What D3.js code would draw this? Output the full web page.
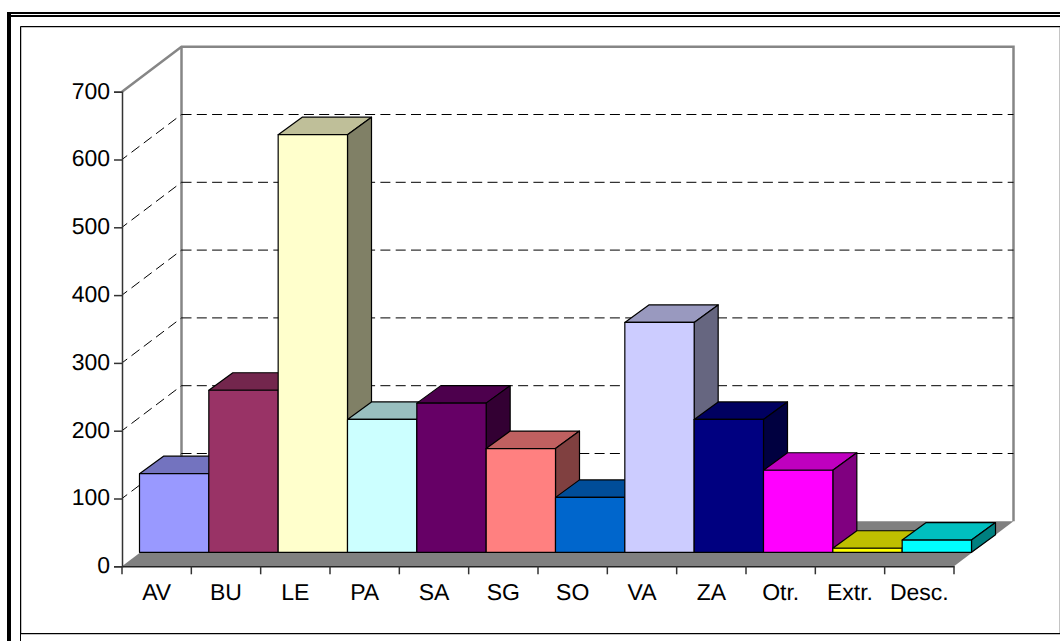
<!DOCTYPE html>
<html>
<head>
<meta charset="utf-8">
<script src="https://cdn.jsdelivr.net/npm/d3@7"></script>
<style>
html, body { margin: 0; padding: 0; background: #fff; overflow: hidden; }
svg { display: block; }
text { font-family: "Liberation Sans", Arial, sans-serif; fill: #000; text-rendering: geometricPrecision; }
</style>
</head>
<body>
<div id="chart"></div>
<script>
var categories = ["AV", "BU", "LE", "PA", "SA", "SG", "SO", "VA", "ZA", "Otr.", "Extr.", "Desc."];
var values = [116, 239, 616, 196, 220, 153, 81, 339, 196, 121, 6, 18];
var barColors = ["#9999FF", "#993366", "#FFFFCC", "#CCFFFF", "#660066", "#FF8080",
    "#0066CC", "#CCCCFF", "#000080", "#FF00FF", "#FFFF00", "#00FFFF"];
var yTicks = [0, 100, 200, 300, 400, 500, 600, 700];

var svg = d3.select("#chart").append("svg")
    .attr("width", 1060)
    .attr("height", 641);

// outer frame, cut off by the window on the right
var frame = svg.append("g");
frame.append("rect").attr("x", 7).attr("y", 12).attr("width", 1053).attr("height", 2).attr("fill", "#000");
frame.append("rect").attr("x", 7).attr("y", 15).attr("width", 1053).attr("height", 2).attr("fill", "#000");
frame.append("rect").attr("x", 7).attr("y", 12).attr("width", 4).attr("height", 629).attr("fill", "#000");
frame.append("rect").attr("x", 21).attr("y", 27).attr("width", 1039).attr("height", 607)
    .attr("fill", "none").attr("stroke", "#888").attr("stroke-width", 1);
frame.append("path").attr("d", "M20.5,641V26.5H1060M20.5,633.5H1060")
    .attr("fill", "none").attr("stroke", "#000").attr("stroke-width", 1);

var x = d3.scaleBand().domain(categories).range([122, 954]);
var y = d3.scaleLinear().domain([0, 700]).range([566.3, 91.7]);

// 3d offsets: whole box, gap in front of the bars, bar depth
var boxDx = 59.5, boxDy = -45;
var gapDx = 17.5, gapDy = -14;
var barDx = 24, barDy = -17.5;

function poly(pts) {
    return "M" + pts.map(function (p) { return p[0] + "," + p[1]; }).join("L") + "Z";
}

function shade(color, k) {
    var c = d3.rgb(color);
    return d3.rgb(c.r * k, c.g * k, c.b * k).formatHex();
}

// floor
svg.append("path")
    .attr("d", poly([[x.range()[0], y(0)], [x.range()[1], y(0)],
        [x.range()[1] + boxDx, y(0) + boxDy], [x.range()[0] + boxDx, y(0) + boxDy]]))
    .attr("fill", "#808080");

// walls
svg.append("path")
    .attr("d", "M" + x.range()[0] + "," + y(700)
        + "L" + (x.range()[0] + boxDx) + "," + (y(700) + boxDy)
        + "H" + (x.range()[1] + boxDx)
        + "V" + (y(0) + boxDy))
    .attr("fill", "none").attr("stroke", "#868686").attr("stroke-width", 2.5);
svg.append("line")
    .attr("x1", x.range()[0] + boxDx).attr("x2", x.range()[0] + boxDx)
    .attr("y1", y(700) + boxDy).attr("y2", y(0) + boxDy)
    .attr("stroke", "#868686").attr("stroke-width", 2.5);

// dashed grid on both walls
var grid = yTicks.filter(function (d) { return d > 0 && d < 700; });
svg.selectAll(".gridBack").data(grid).enter().append("line")
    .attr("class", "gridBack")
    .attr("x1", x.range()[0] + boxDx).attr("x2", x.range()[1] + boxDx)
    .attr("y1", function (d) { return y(d) + boxDy; })
    .attr("y2", function (d) { return y(d) + boxDy; })
    .attr("stroke", "#000").attr("stroke-width", 1).attr("stroke-dasharray", "10,5.3");
svg.selectAll(".gridSide").data(grid).enter().append("line")
    .attr("class", "gridSide")
    .attr("x1", x.range()[0]).attr("x2", x.range()[0] + boxDx)
    .attr("y1", function (d) { return y(d); })
    .attr("y2", function (d) { return y(d) + boxDy; })
    .attr("stroke", "#000").attr("stroke-width", 1)
    .attr("stroke-dasharray", "10,5.4").attr("stroke-dashoffset", 3.5);

// bars
var bars = svg.selectAll(".bar").data(categories).enter().append("g")
    .attr("class", "bar")
    .attr("stroke", "#000")
    .attr("stroke-width", 1.2)
    .attr("stroke-linejoin", "round");

function corners(d, i) {
    var x0 = x(d) + gapDx, x1 = x0 + x.bandwidth();
    var yb = y(0) + gapDy, yt = y(values[i]) + gapDy;
    return { x0: x0, x1: x1, yb: yb, yt: yt };
}

bars.append("path")
    .attr("d", function (d, i) {
        var c = corners(d, i);
        return poly([[c.x0, c.yt], [c.x1, c.yt], [c.x1 + barDx, c.yt + barDy], [c.x0 + barDx, c.yt + barDy]]);
    })
    .attr("fill", function (d, i) { return shade(barColors[i], 0.75); });

bars.append("path")
    .attr("d", function (d, i) {
        var c = corners(d, i);
        return poly([[c.x1, c.yt], [c.x1 + barDx, c.yt + barDy], [c.x1 + barDx, c.yb + barDy], [c.x1, c.yb]]);
    })
    .attr("fill", function (d, i) { return shade(barColors[i], 0.5); });

bars.append("path")
    .attr("d", function (d, i) {
        var c = corners(d, i);
        return poly([[c.x0, c.yt], [c.x1, c.yt], [c.x1, c.yb], [c.x0, c.yb]]);
    })
    .attr("fill", function (d, i) { return barColors[i]; });

// axes
var yAxis = d3.axisLeft(y).tickValues(yTicks).tickSize(8).tickPadding(4);
var gy = svg.append("g")
    .attr("transform", "translate(" + x.range()[0] + ",0)")
    .call(yAxis);
gy.selectAll("text").style("font-size", "23px").style("font-family", "Liberation Sans")
    .attr("fill", "#000").attr("y", -1);
gy.selectAll("line").attr("stroke", "#333").attr("stroke-width", 1.5);
gy.select(".domain").attr("stroke", "#333").attr("stroke-width", 1.5);

var xAxis = d3.axisBottom(x).tickSize(0).tickPadding(17);
var gx = svg.append("g")
    .attr("transform", "translate(0," + y(0) + ")")
    .call(xAxis);
gx.selectAll("text").style("font-size", "23px").style("font-family", "Liberation Sans").attr("fill", "#000");
gx.select(".domain").attr("stroke", "#222").attr("stroke-width", 1.5);

// the ticks sit on the band edges
gx.selectAll(".edgeTick").data(d3.range(categories.length + 1)).enter().append("line")
    .attr("class", "edgeTick")
    .attr("x1", function (i) { return x.range()[0] + i * x.step(); })
    .attr("x2", function (i) { return x.range()[0] + i * x.step(); })
    .attr("y1", 0).attr("y2", 8)
    .attr("stroke", "#333").attr("stroke-width", 1.5);
</script>
</body>
</html>
